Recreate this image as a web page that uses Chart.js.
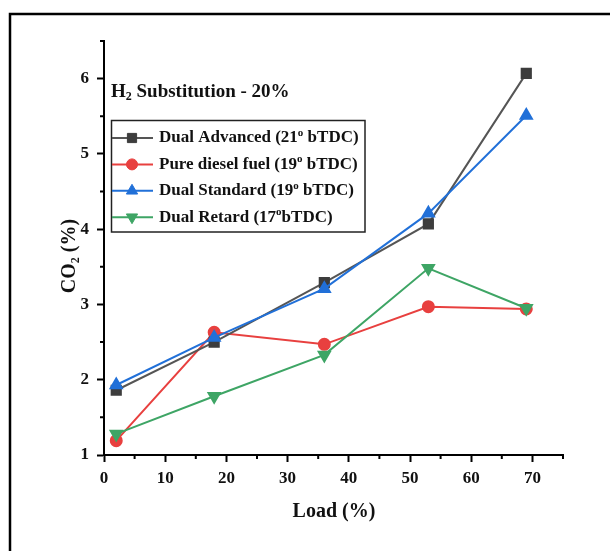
<!DOCTYPE html>
<html>
<head>
<meta charset="utf-8">
<script src="https://cdn.jsdelivr.net/npm/chart.js@4.4.1/dist/chart.umd.min.js"></script>
<style>
  html, body { margin: 0; padding: 0; background: #fff; }
  #wrap { width: 610px; height: 551px; }
</style>
</head>
<body>
<div id="wrap"><canvas id="chartCO2"></canvas></div>
<script>
// data
const loads = [2, 18, 36, 53, 69];
const dualAdvanced = [1.86, 2.50, 3.29, 4.07, 6.07];
const pureDiesel   = [1.19, 2.63, 2.47, 2.97, 2.94];
const dualStandard = [1.93, 2.56, 3.21, 4.21, 5.51];
const dualRetard   = [1.28, 1.78, 2.33, 3.48, 2.95];
const seriesNames = [
  'Dual Advanced (21^o bTDC)',
  'Pure diesel fuel (19^o bTDC)',
  'Dual Standard (19^o bTDC)',
  'Dual Retard (17^obTDC)'
];
const xTicks = [0, 10, 20, 30, 40, 50, 60, 70];
const xMinor = [5, 15, 25, 35, 45, 55, 65, 75];
const yTicks = [1, 2, 3, 4, 5, 6];
const yMinor = [1.5, 2.5, 3.5, 4.5, 5.5, 6.5];
const subTitle = 'H_2 Substitution - 20%';
const xTitle = 'Load (%)';
const yTitle = 'CO_2 (%)';

const FONT = "'Liberation Serif', 'Times New Roman', serif";
const pts = arr => loads.map((x, i) => ({ x, y: arr[i] }));

// text with _x subscripts and ^x superscripts
function drawRich(ctx, str, x, y, size, align) {
  const segs = [];
  const re = /([_^])(\w)/g;
  let last = 0, m;
  while ((m = re.exec(str))) {
    if (m.index > last) segs.push({ t: str.slice(last, m.index), k: '' });
    segs.push({ t: m[2], k: m[1] });
    last = re.lastIndex;
  }
  if (last < str.length) segs.push({ t: str.slice(last), k: '' });
  const small = Math.round(size * 0.62);
  let total = 0;
  segs.forEach(s => {
    ctx.font = `bold ${s.k ? small : size}px ${FONT}`;
    s.w = ctx.measureText(s.t).width;
    total += s.w;
  });
  let cx = align === 'center' ? x - total / 2 : x;
  ctx.textAlign = 'left';
  ctx.textBaseline = 'middle';
  segs.forEach(s => {
    ctx.font = `bold ${s.k ? small : size}px ${FONT}`;
    let dy = 0;
    if (s.k === '_') dy = size * 0.28;
    if (s.k === '^') dy = -size * 0.3;
    ctx.fillText(s.t, cx, y + dy);
    cx += s.w;
  });
}

function drawMarker(ctx, ds, x, y) {
  ctx.save();
  ctx.fillStyle = ds.pointBackgroundColor;
  ctx.strokeStyle = ds.pointBorderColor;
  ctx.lineWidth = 1;
  Chart.helpers.drawPoint(ctx, {
    pointStyle: ds.pointStyle,
    rotation: ds.pointRotation || 0,
    radius: ds.pointRadius,
    borderWidth: 1
  }, x, y);
  ctx.restore();
}

const extrasPlugin = {
  id: 'extras',
  afterDraw(chart) {
    const ctx = chart.ctx;
    const xs = chart.scales.x, ys = chart.scales.y;
    const area = chart.chartArea;
    ctx.save();
    // outer frame
    ctx.strokeStyle = '#000';
    ctx.lineWidth = 2.5;
    ctx.beginPath();
    ctx.moveTo(10, 551);
    ctx.lineTo(10, 14);
    ctx.lineTo(610, 14);
    ctx.stroke();

    // minor ticks
    ctx.lineWidth = 2;
    ctx.beginPath();
    xMinor.forEach(v => {
      const px = xs.getPixelForValue(v);
      ctx.moveTo(px, area.bottom);
      ctx.lineTo(px, area.bottom + 4);
    });
    yMinor.forEach(v => {
      const py = ys.getPixelForValue(v);
      ctx.moveTo(area.left, py);
      ctx.lineTo(area.left - 4, py);
    });
    ctx.stroke();

    ctx.fillStyle = '#111';
    drawRich(ctx, subTitle, 111, 92, 19, 'left');
    drawRich(ctx, xTitle, 334, 512, 20, 'center');
    ctx.save();
    ctx.translate(70, 256);
    ctx.rotate(-Math.PI / 2);
    drawRich(ctx, yTitle, 0, 0, 20, 'center');
    ctx.restore();

    // legend box
    ctx.strokeStyle = '#222';
    ctx.lineWidth = 1.5;
    ctx.strokeRect(111.5, 120.5, 253.5, 111.5);
    chart.data.datasets.forEach((ds, i) => {
      const ly = 138 + i * 26.4;
      ctx.strokeStyle = ds.borderColor;
      ctx.lineWidth = 2;
      ctx.beginPath();
      ctx.moveTo(112, ly);
      ctx.lineTo(153, ly);
      ctx.stroke();
      drawMarker(ctx, ds, 132, ly);
      ctx.fillStyle = '#111';
      drawRich(ctx, seriesNames[i], 159, ly, 17, 'left');
    });
    ctx.restore();
  }
};

const tickFont = { family: FONT, size: 17, weight: 'bold' };

new Chart(document.getElementById('chartCO2').getContext('2d'), {
  type: 'line',
  data: {
    datasets: [
      {
        label: seriesNames[0],
        data: pts(dualAdvanced),
        borderColor: '#555555',
        pointBackgroundColor: '#3d3d3d',
        pointBorderColor: '#3d3d3d',
        pointStyle: 'rect',
        pointRadius: 6.5,
        borderWidth: 2,
        order: 2
      },
      {
        label: seriesNames[1],
        data: pts(pureDiesel),
        borderColor: '#e8403f',
        pointBackgroundColor: '#e8403f',
        pointBorderColor: '#e8403f',
        pointStyle: 'circle',
        pointRadius: 5.5,
        borderWidth: 2,
        order: 3
      },
      {
        label: seriesNames[2],
        data: pts(dualStandard),
        borderColor: '#2170d8',
        pointBackgroundColor: '#2170d8',
        pointBorderColor: '#2170d8',
        pointStyle: 'triangle',
        pointRadius: 6.5,
        borderWidth: 2,
        order: 1
      },
      {
        label: seriesNames[3],
        data: pts(dualRetard),
        borderColor: '#3ea565',
        pointBackgroundColor: '#3ea565',
        pointBorderColor: '#3ea565',
        pointStyle: 'triangle',
        pointRotation: 180,
        pointRadius: 6.5,
        borderWidth: 2,
        order: 0
      }
    ]
  },
  options: {
    responsive: true,
    maintainAspectRatio: false,
    animation: false,
    events: [],
    devicePixelRatio: 1,
    layout: { padding: { left: 0, right: 47, top: 41, bottom: 0 } },
    plugins: {
      legend: { display: false },
      tooltip: { enabled: false }
    },
    scales: {
      x: {
        type: 'linear',
        min: 0,
        max: 75,
        afterBuildTicks: s => { s.ticks = xTicks.map(v => ({ value: v })); },
        afterFit: s => { s.height = 96; },
        ticks: { font: tickFont, color: '#111', padding: 6, maxRotation: 0, autoSkip: false },
        grid: { drawOnChartArea: false, tickLength: 7, tickColor: '#000', tickWidth: 2 },
        border: { color: '#000', width: 2 }
      },
      y: {
        type: 'linear',
        min: 1,
        max: 6.5,
        afterBuildTicks: s => { s.ticks = yTicks.map(v => ({ value: v })); },
        afterFit: s => { s.width = 104; },
        ticks: { font: tickFont, color: '#111', padding: 8, autoSkip: false },
        grid: { drawOnChartArea: false, tickLength: 7, tickColor: '#000', tickWidth: 2 },
        border: { color: '#000', width: 2 }
      }
    }
  },
  plugins: [extrasPlugin]
});
</script>
</body>
</html>
